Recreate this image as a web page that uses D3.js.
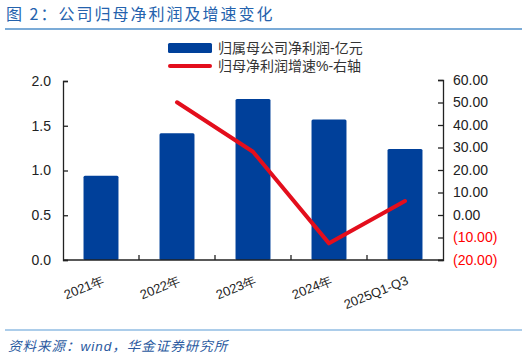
<!DOCTYPE html>
<html lang="zh">
<head>
<meta charset="utf-8">
<title>公司归母净利润及增速变化</title>
<script src="https://d3js.org/d3.v7.min.js"></script>
<style>
  body { margin: 0; background: #fff; font-family: "Liberation Sans", Arial, "Noto Sans CJK SC", sans-serif; }
  .axis text { font-size: 14px; fill: #222; }
  .axis path, .axis line { stroke: #222; stroke-width: 1.3px; }
  .legend text { font-size: 14px; fill: #333; }
</style>
</head>
<body>
<script>
// data
var years = ["2021年", "2022年", "2023年", "2024年", "2025Q1-Q3"];
var profit = [0.94, 1.415, 1.80, 1.57, 1.24];          // 亿元
var growth = [null, 50.1, 28.1, -12.6, 6.2];           // %
var leftTicks = [0, 0.5, 1.0, 1.5, 2.0];
var rightTicks = [-20, -10, 0, 10, 20, 30, 40, 50, 60];

(function() {
var width = 527, height = 359;
var mLeft = 63, mRight = 443, mTop = 81, mBottom = 260;

var svg = d3.select("body").append("svg")
    .attr("width", width)
    .attr("height", height);

// title
svg.append("text")
    .attr("x", 6).attr("y", 20)
    .style("font-size", "16px")
    .style("letter-spacing", "2px")
    .style("fill", "#2462ad")
    .style("font-family", "'Noto Sans CJK SC', sans-serif")
    .text("图 2：公司归母净利润及增速变化");
svg.append("line")
    .attr("x1", 5).attr("x2", 522).attr("y1", 29).attr("y2", 29)
    .style("stroke", "#4f8fca").style("stroke-width", 1.5);

var x = d3.scaleBand().domain(years).range([mLeft, mRight]).paddingInner(0.54).paddingOuter(0.27);
var yL = d3.scaleLinear().domain([0, 2]).range([mBottom, mTop]);
var yR = d3.scaleLinear().domain([-20, 60]).range([mBottom, 80]);

// bars
svg.append("g").selectAll("rect")
    .data(profit)
    .enter().append("rect")
    .attr("x", (d, i) => x(years[i]))
    .attr("y", d => yL(d))
    .attr("width", x.bandwidth())
    .attr("height", d => mBottom - yL(d))
    .attr("rx", 1.5)
    .style("fill", "#00409a");

// growth line
var line = d3.line()
    .defined(d => d !== null)
    .x((d, i) => x(years[i]) + x.bandwidth() / 2)
    .y(d => yR(d));
svg.append("path")
    .datum(growth)
    .attr("d", line)
    .style("fill", "none")
    .style("stroke", "#e30e1c")
    .style("stroke-width", 4)
    .style("stroke-linecap", "round")
    .style("stroke-linejoin", "round");

// left axis
svg.append("g").attr("class", "axis")
    .attr("transform", "translate(" + mLeft + ",0)")
    .call(d3.axisLeft(yL).tickValues(leftTicks).tickFormat(d3.format(".1f")).tickSize(-5).tickSizeOuter(-5).tickPadding(12));

// right axis
var gr = svg.append("g").attr("class", "axis")
    .attr("transform", "translate(" + mRight + ",0)")
    .call(d3.axisRight(yR).tickValues(rightTicks)
      .tickFormat(d => d < 0 ? "(" + d3.format(".2f")(-d) + ")" : d3.format(".2f")(d))
      .tickSize(-5).tickSizeOuter(-5).tickPadding(10));
gr.selectAll("text").style("fill", d => d < 0 ? "#ff0000" : "#222");

// bottom axis
var gb = svg.append("g").attr("class", "axis")
    .attr("transform", "translate(0," + mBottom + ")")
    .call(d3.axisBottom(x).tickSize(0).tickSizeOuter(0));
gb.select(".domain").attr("d", "M" + mLeft + ",0H" + mRight);
gb.selectAll("text")
    .style("font-size", "13px")
    .attr("text-anchor", "end")
    .attr("dy", 0)
    .attr("transform", "translate(3,21) rotate(-22)");
// category separator ticks
var step = x.step();
gb.selectAll(".sep")
    .data(d3.range(1, years.length))
    .enter().append("line")
    .attr("x1", i => mLeft + i * step).attr("x2", i => mLeft + i * step)
    .attr("y1", 0).attr("y2", -5)
    .style("stroke", "#222").style("stroke-width", 1.3);

// legend
var lg = svg.append("g").attr("class", "legend");
lg.append("rect").attr("x", 168).attr("y", 43).attr("width", 44).attr("height", 10).attr("rx", 1.5).style("fill", "#00409a");
lg.append("text").attr("x", 218).attr("y", 53).text("归属母公司净利润-亿元");
lg.append("line").attr("x1", 170).attr("x2", 210).attr("y1", 66).attr("y2", 66)
    .style("stroke", "#e30e1c").style("stroke-width", 4).style("stroke-linecap", "round");
lg.append("text").attr("x", 218).attr("y", 71).text("归母净利润增速%-右轴");

// footer
svg.append("line")
    .attr("x1", 5).attr("x2", 522).attr("y1", 330).attr("y2", 330)
    .style("stroke", "#5b9bd5").style("stroke-width", 1.2);
svg.append("text")
    .attr("x", 8).attr("y", 351)
    .style("font-size", "13.5px")
    .style("letter-spacing", "1px")
    .style("font-style", "italic")
    .style("fill", "#2a5aa0")
    .text("资料来源：wind，华金证券研究所");
})();
</script>
</body>
</html>
